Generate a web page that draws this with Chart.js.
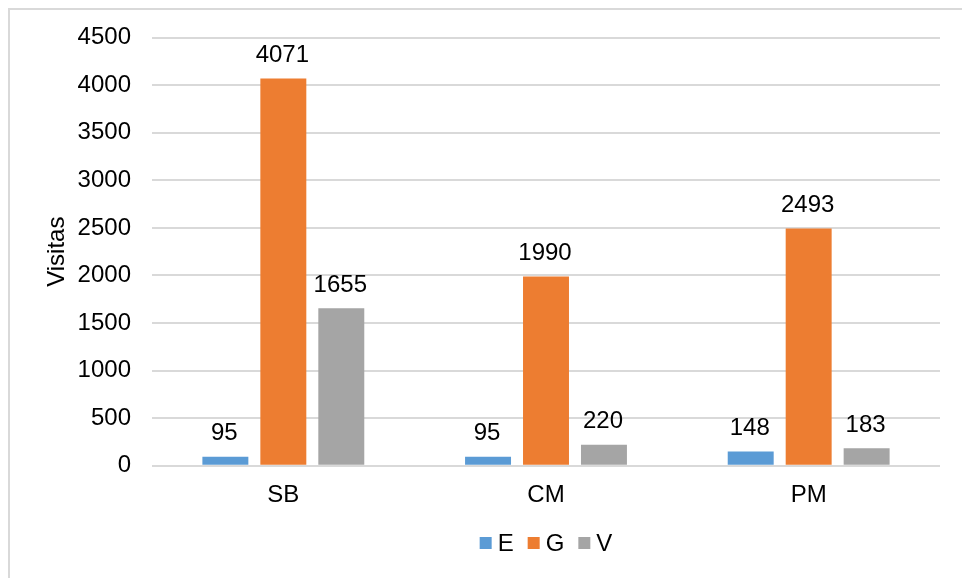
<!DOCTYPE html>
<html>
<head>
<meta charset="utf-8">
<style>
  html, body { margin: 0; padding: 0; background: #ffffff; }
  #wrap { position: relative; width: 962px; height: 578px; overflow: hidden; }
  canvas { display: block; }
</style>
<script src="https://cdn.jsdelivr.net/npm/chart.js@4/dist/chart.umd.min.js"></script>
</head>
<body>
<div id="wrap"><canvas id="chart" width="962" height="578"></canvas></div>
<script>
// Visits per site, split by group
const categories = ['SB', 'CM', 'PM'];
const seriesNames = ['E', 'G', 'V'];
const valuesE = [95, 95, 148];
const valuesG = [4071, 1990, 2493];
const valuesV = [1655, 220, 183];
const seriesColors = ['#5B9BD5', '#ED7D31', '#A5A5A5'];
const axisTitle = 'Visitas';
const yMin = 0;
const yMax = 4500;
const yStep = 500;

const FONT_FAMILY = '"Liberation Sans", Arial, Helvetica, sans-serif';
const FONT_SIZE = 24;
const TEXT_COLOR = '#000000';
const GRID_COLOR = '#d9d9d9';

const seriesValues = [valuesE, valuesG, valuesV];

// Light outer frame around the whole chart
const framePlugin = {
  id: 'frame',
  beforeDraw(chart) {
    const ctx = chart.ctx;
    ctx.save();
    ctx.fillStyle = '#ffffff';
    ctx.fillRect(0, 0, chart.width, chart.height);
    ctx.strokeStyle = GRID_COLOR;
    ctx.lineWidth = 2;
    ctx.strokeRect(9, 9, chart.width + 40, chart.height + 40);
    ctx.restore();
  }
};

// Value printed above each bar
const valueLabelPlugin = {
  id: 'valueLabels',
  afterDatasetsDraw(chart) {
    const ctx = chart.ctx;
    ctx.save();
    ctx.font = FONT_SIZE + 'px ' + FONT_FAMILY;
    ctx.fillStyle = TEXT_COLOR;
    ctx.textAlign = 'center';
    ctx.textBaseline = 'alphabetic';
    chart.data.datasets.forEach((ds, i) => {
      const meta = chart.getDatasetMeta(i);
      meta.data.forEach((bar, j) => {
        ctx.fillText(String(ds.data[j]), bar.x - 1, bar.y - 16.5);
      });
    });
    ctx.restore();
  }
};

// Compact legend centred under the plot area
const bottomLegendPlugin = {
  id: 'bottomLegend',
  afterDraw(chart) {
    const ctx = chart.ctx;
    const area = chart.chartArea;
    const box = 12, textGap = 6, itemGap = 14;
    ctx.save();
    ctx.font = FONT_SIZE + 'px ' + FONT_FAMILY;
    const items = chart.data.datasets.map(ds => ({
      label: ds.label,
      color: ds.backgroundColor,
      w: ctx.measureText(ds.label).width
    }));
    const total = items.reduce((s, it) => s + box + textGap + it.w, 0) + itemGap * (items.length - 1);
    let x = (area.left + area.right) / 2 - total / 2;
    const yc = chart.height - 35;
    ctx.textBaseline = 'middle';
    ctx.textAlign = 'left';
    items.forEach(it => {
      ctx.fillStyle = it.color;
      ctx.fillRect(x, yc - box / 2, box, box);
      x += box + textGap;
      ctx.fillStyle = TEXT_COLOR;
      ctx.fillText(it.label, x, yc + 1);
      x += it.w + itemGap;
    });
    ctx.restore();
  }
};

const datasets = seriesNames.map((name, i) => ({
  label: name,
  data: seriesValues[i],
  backgroundColor: seriesColors[i],
  borderWidth: 0,
  categoryPercentage: 0.662,
  barPercentage: 0.793
}));

new Chart(document.getElementById('chart'), {
  type: 'bar',
  data: { labels: categories, datasets },
  options: {
    responsive: false,
    animation: false,
    devicePixelRatio: 1,
    layout: { padding: { left: 0, right: 22, top: 37.7, bottom: 60 } },
    plugins: {
      legend: { display: false },
      tooltip: { enabled: false }
    },
    scales: {
      x: {
        grid: { display: false, drawTicks: false },
        border: { display: false },
        ticks: {
          color: TEXT_COLOR,
          font: { family: FONT_FAMILY, size: FONT_SIZE },
          padding: 15
        },
        afterFit(scale) { scale.height = 52.3; }
      },
      y: {
        min: yMin,
        max: yMax,
        grid: { color: GRID_COLOR, lineWidth: 2, drawTicks: false },
        border: { display: false },
        ticks: {
          stepSize: yStep,
          color: TEXT_COLOR,
          font: { family: FONT_FAMILY, size: FONT_SIZE },
          padding: 21,
          callback: (value) => String(value)
        },
        title: {
          display: true,
          text: axisTitle,
          color: TEXT_COLOR,
          font: { family: FONT_FAMILY, size: FONT_SIZE },
          padding: { top: 43, bottom: 0 }
        },
        afterFit(scale) { scale.width = 152; }
      }
    }
  },
  plugins: [framePlugin, valueLabelPlugin, bottomLegendPlugin]
});
</script>
</body>
</html>
